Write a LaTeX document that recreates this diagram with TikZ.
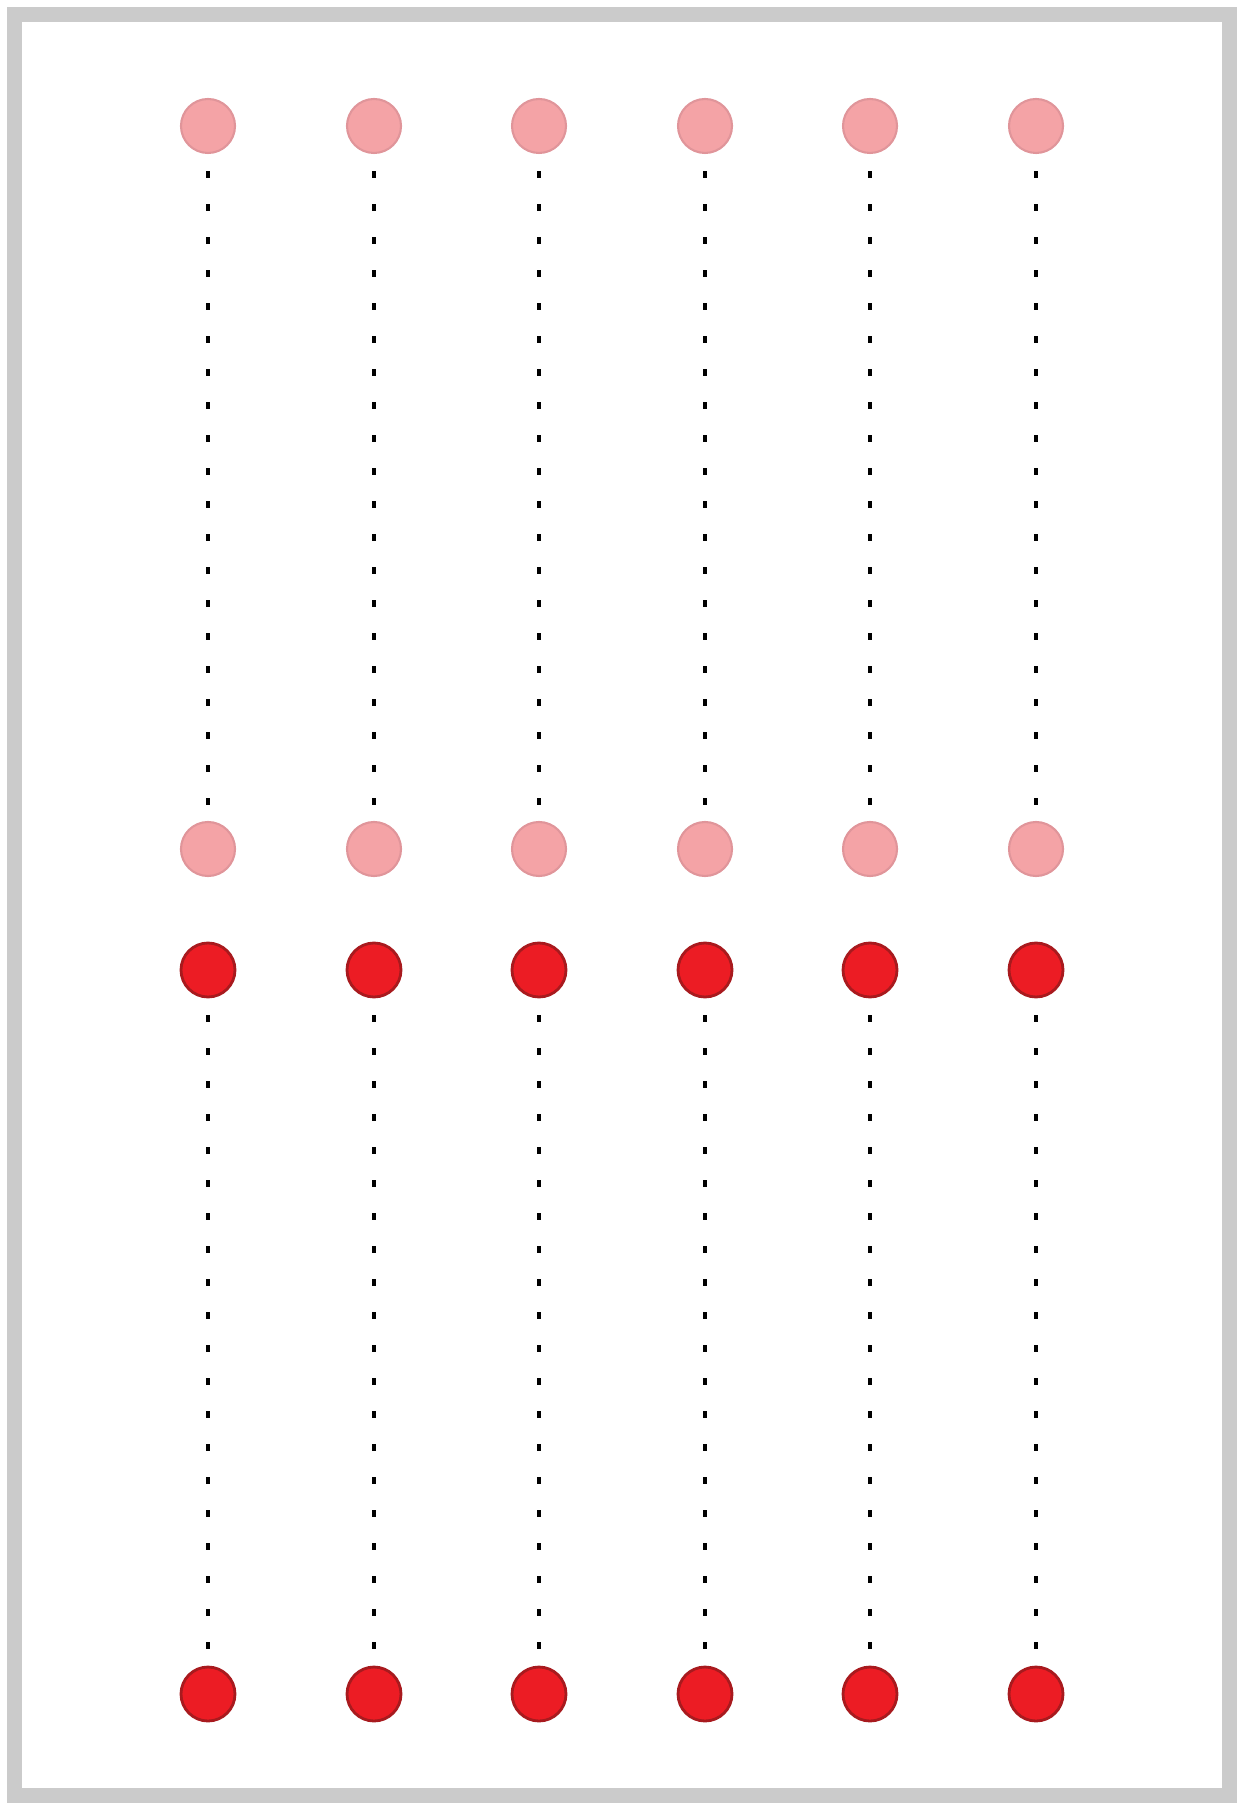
\documentclass[tikz,border=0pt]{standalone}
\usepackage{xcolor}
\definecolor{framegray}{HTML}{CBCBCB}
\definecolor{pinkfill}{HTML}{F4A3A6}
\definecolor{pinkedge}{HTML}{E0959A}
\definecolor{redfill}{HTML}{EC1C24}
\definecolor{rededge}{HTML}{A81A1E}

\begin{document}
\begin{tikzpicture}[pinkdot/.style={circle, fill=pinkfill, draw=pinkedge, line width=0.6pt, minimum size=5.4mm, inner sep=0pt},
  reddot/.style={circle, fill=redfill, draw=rededge, line width=0.8pt, minimum size=5.4mm, inner sep=0pt},
  dotline/.style={line width=0.35mm, dash pattern=on 0.7mm off 2.6mm, dash phase=1.6mm}]
  \useasboundingbox (0,0) rectangle (12.51,-18.14);
  \draw[framegray, line width=1.5mm] (0.145,-0.145) rectangle (12.295,-17.955);
  \node[pinkdot] (p1) at (2.08,-1.26) {}; \node[pinkdot] (p2) at (3.74,-1.26) {}; \node[pinkdot] (p3) at (5.39,-1.26) {};
  \node[pinkdot] (p4) at (7.05,-1.26) {}; \node[pinkdot] (p5) at (8.70,-1.26) {}; \node[pinkdot] (p6) at (10.36,-1.26) {};
  \node[pinkdot] (q1) at (2.08,-8.49) {}; \node[pinkdot] (q2) at (3.74,-8.49) {}; \node[pinkdot] (q3) at (5.39,-8.49) {};
  \node[pinkdot] (q4) at (7.05,-8.49) {}; \node[pinkdot] (q5) at (8.70,-8.49) {}; \node[pinkdot] (q6) at (10.36,-8.49) {};
  \node[reddot] (r1) at (2.08,-9.70) {}; \node[reddot] (r2) at (3.74,-9.70) {}; \node[reddot] (r3) at (5.39,-9.70) {};
  \node[reddot] (r4) at (7.05,-9.70) {}; \node[reddot] (r5) at (8.70,-9.70) {}; \node[reddot] (r6) at (10.36,-9.70) {};
  \node[reddot] (s1) at (2.08,-16.94) {}; \node[reddot] (s2) at (3.74,-16.94) {}; \node[reddot] (s3) at (5.39,-16.94) {};
  \node[reddot] (s4) at (7.05,-16.94) {}; \node[reddot] (s5) at (8.70,-16.94) {}; \node[reddot] (s6) at (10.36,-16.94) {};
  \draw[dotline] (p1)--(q1); \draw[dotline] (p2)--(q2); \draw[dotline] (p3)--(q3);
  \draw[dotline] (p4)--(q4); \draw[dotline] (p5)--(q5); \draw[dotline] (p6)--(q6);
  \draw[dotline] (r1)--(s1); \draw[dotline] (r2)--(s2); \draw[dotline] (r3)--(s3);
  \draw[dotline] (r4)--(s4); \draw[dotline] (r5)--(s5); \draw[dotline] (r6)--(s6);
\end{tikzpicture}
\end{document}
